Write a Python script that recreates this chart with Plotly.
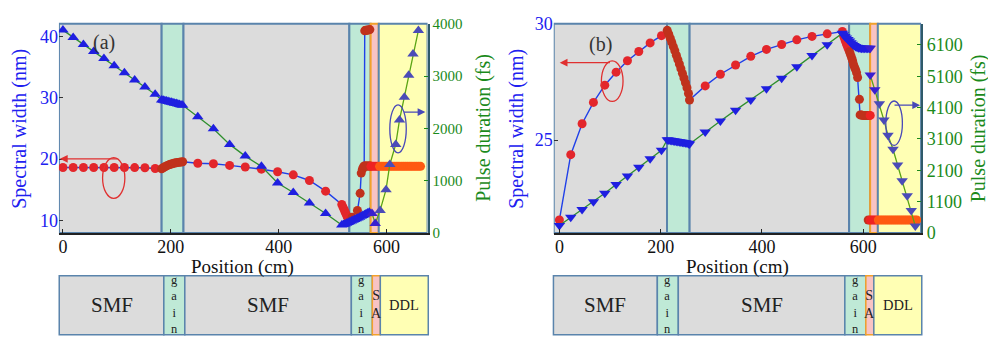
import plotly.graph_objects as go

# ---------------------------------------------------------------------------
# Panel (a): fibre sections and evolution along the cavity
# ---------------------------------------------------------------------------
a_section_kinds = ["smf", "gain", "smf", "gain", "sa", "ddl"]
a_section_edges = [-7.4, 183, 223.5, 531, 570.4, 585.5, 676]

# spectral width (nm), left axis
a_pos_sw = [0, 19, 38, 57, 76, 95, 114, 133, 152, 171,
            183, 186, 189, 192, 195, 198, 201, 204, 207, 210, 213, 216, 219, 222,
            250, 279, 309, 338, 368, 398, 427, 457, 487, 517,
            519, 521, 523, 525, 527, 529, 536, 546, 551, 553, 555, 557, 558.5,
            559.5, 561, 563, 565, 567, 569]
a_sw = [18.62, 18.62, 18.62, 18.62, 18.62, 18.62, 18.61, 18.60, 18.57, 18.45,
        18.40, 18.58, 18.74, 18.88, 19.00, 19.10, 19.19, 19.27, 19.33, 19.39, 19.44, 19.48, 19.52, 19.55,
        19.31, 19.22, 18.96, 18.69, 18.34, 17.93, 17.42, 16.50, 14.76, 12.60,
        12.2, 11.8, 11.4, 11.0, 10.6, 10.3, 10.5, 11.6, 14.4, 17.7, 18.3, 18.7, 18.85,
        40.9, 41.0, 41.0, 41.05, 41.05, 41.1]
a_pos_sw_hold = [560, 562, 564, 566, 568, 570]
a_sw_hold = [18.85, 18.85, 18.85, 18.85, 18.85, 18.85]
a_pos_sw_out = [571, 575, 579, 583, 587, 591, 595, 599, 603, 607, 611, 615,
                619, 623, 627, 631, 635, 639, 643, 647, 651, 655, 659, 663]
a_sw_out = [18.8, 18.8, 18.8, 18.8, 18.8, 18.8, 18.8, 18.8, 18.8, 18.8, 18.8, 18.8,
            18.8, 18.8, 18.8, 18.8, 18.8, 18.8, 18.8, 18.8, 18.8, 18.8, 18.8, 18.8]

# pulse duration (fs), right axis
a_pos_pd = [0, 19, 38, 57, 76, 95, 114, 133, 152, 171,
            183, 186, 189, 192, 195, 198, 201, 204, 207, 210, 213, 216, 219, 222,
            250, 279, 309, 338, 368, 398, 427, 457, 487, 517,
            520, 523, 526, 529, 532, 535, 538, 541, 544, 547, 550, 553, 556, 559, 562, 565, 568]
a_pd = [3880, 3740, 3605, 3470, 3335, 3200, 3065, 2928, 2790, 2655,
        2545, 2538, 2530, 2522, 2514, 2506, 2498, 2490, 2482, 2474, 2466, 2458, 2450, 2442,
        2224, 1995, 1694, 1470, 1274, 955, 775, 571, 373, 151,
        160, 172, 186, 200, 214, 228, 242, 257, 272, 287, 302, 318, 334, 350, 366, 382, 398]
a_pos_pd_out = [573, 579, 588, 599, 606, 617, 624, 633, 641, 649, 659]
a_pd_out = [373, 180, 432, 829, 1310, 1694, 2162, 2595, 3017, 3424, 3874]

a_sw_ticks = [10, 20, 30, 40]
a_pd_ticks = [0, 1000, 2000, 3000, 4000]
a_pd_ticktext = ["0", "1000", "2000", "3000", "4000"]

# ---------------------------------------------------------------------------
# Panel (b)
# ---------------------------------------------------------------------------
b_section_kinds = ["smf", "gain", "smf", "gain", "sa", "ddl"]
b_section_edges = [-11.2, 212.5, 257.2, 572.3, 613.8, 629, 714.4]

b_pos_sw = [0, 22.4, 44.8, 67.2, 89.6, 112, 134.4, 156.8, 179.2, 201.6,
            213, 216, 219, 222, 225, 228, 231, 234, 237, 240, 243, 246, 249, 252, 255, 257,
            288, 318, 348, 378, 409, 439, 469, 499, 529, 559,
            561, 563, 565, 567, 569, 571, 573, 575, 577, 579, 581, 583, 585, 587, 589,
            592.7, 594, 596, 598, 600, 602, 604, 606, 608, 610, 612, 614]
b_sw = [21.56, 24.37, 25.70, 26.62, 27.36, 27.92, 28.41, 28.81, 29.18, 29.49,
        29.72, 29.55, 29.38, 29.20, 29.02, 28.84, 28.65, 28.46, 28.27, 28.07, 27.87, 27.67, 27.46, 27.25, 27.00, 26.72,
        27.33, 27.83, 28.23, 28.60, 28.90, 29.11, 29.31, 29.46, 29.57, 29.67,
        29.50, 29.38, 29.25, 29.13, 29.02, 28.91, 28.80, 28.68, 28.55, 28.42, 28.25, 28.13, 28.03, 27.90, 27.69,
        26.75, 26.08, 26.08, 26.07, 26.06, 26.06, 26.06, 26.05, 26.05, 26.05, 26.05, 26.06]
b_pos_sw_out = [610, 614, 618, 622, 626, 630, 634, 638, 642, 646, 650, 654, 658,
                662, 666, 670, 674, 678, 682, 686, 690, 694, 698, 702, 706]
b_sw_out = [21.56, 21.56, 21.56, 21.56, 21.56, 21.56, 21.56, 21.56, 21.56, 21.56, 21.56, 21.56, 21.56,
            21.56, 21.56, 21.56, 21.56, 21.56, 21.56, 21.56, 21.56, 21.56, 21.56, 21.56, 21.56]

b_pos_pd = [0, 22.4, 44.8, 67.2, 89.6, 112, 134.4, 156.8, 179.2, 201.6,
            213, 216, 219, 222, 225, 228, 231, 234, 237, 240, 243, 246, 249, 252, 255, 257,
            288, 318, 348, 378, 409, 439, 469, 499, 529, 559,
            561, 564, 567, 570, 573, 576, 579, 582, 585, 588, 591, 594, 597, 600, 603, 606, 609, 612, 614]
b_pd = [340, 598, 850, 1099, 1369, 1648, 1918, 2200, 2470, 2740,
        3075, 3068, 3060, 3052, 3044, 3036, 3028, 3020, 3012, 3004, 2996, 2988, 2980, 2970, 2955, 2940,
        3319, 3670, 4018, 4339, 4699, 5038, 5398, 5758, 6100, 6469,
        6420, 6370, 6320, 6270, 6220, 6170, 6120, 6080, 6045, 6020, 6005, 6000, 5995, 5995, 5995, 5995, 5995, 5995, 5995]
b_pos_pd_out = [614, 623, 632, 641, 649, 659, 668, 677, 687, 695, 703]
b_pd_out = [5140, 4669, 4219, 3700, 3220, 2770, 2269, 1768, 1288, 820, 319]

b_sw_ticks = [25, 30]
b_pd_ticks = [100, 1100, 2100, 3100, 4100, 5100, 6100]
b_pd_ticktext = ["0", "1100", "2100", "3100", "4100", "5100", "6100"]

x_ticks = [0, 200, 400, 600]

# cavity schematic beneath each panel
schematic_labels = ["SMF", "g<br>a<br>i<br>n", "SMF", "g<br>a<br>i<br>n", "S<br>A", "DDL"]

# ---------------------------------------------------------------------------
W, H = 988, 340
SERIF = "Liberation Serif"

FILL = {"smf": "#dcdcdc", "gain": "#bfe9d6", "sa": "#f8c3c3", "ddl": "#ffffb4"}
EDGE = {"smf": "#5a84ac", "gain": "#5a84ac", "sa": "#f2a12a", "ddl": "#5a84ac"}
SW_COL = {"smf": "#e3262b", "gain": "#c0321c", "sa": "#ee2222", "ddl": "#ff5a12"}
PD_COL = {"smf": "#1f1fe0", "gain": "#1f1fe0", "sa": "#3a1fd0", "ddl": "#4b4bb8"}
BLUE_TXT = "#2020f0"
GREEN_TXT = "#1b8a1b"


def kind_at(x, edges, kinds):
    for i, k in enumerate(kinds):
        if edges[i] <= x < edges[i + 1]:
            return k
    return kinds[-1]


def colours(xs, edges, kinds, table):
    return [table[kind_at(x, edges, kinds)] for x in xs]


def fx(p):
    return p / W


def fy(p):
    return 1 - p / H


fig = go.Figure()

panels = [
    dict(xa="x", ya="y", ya2="y2", edges=a_section_edges, kinds=a_section_kinds,
         pos_sw=a_pos_sw, sw=a_sw, pos_pd=a_pos_pd, pd=a_pd,
         extra_sw=[(a_pos_sw_hold, a_sw_hold), (a_pos_sw_out, a_sw_out)],
         pos_pd_out=a_pos_pd_out, pd_out=a_pd_out, tri="triangle-up"),
    dict(xa="x2", ya="y3", ya2="y4", edges=b_section_edges, kinds=b_section_kinds,
         pos_sw=b_pos_sw, sw=b_sw, pos_pd=b_pos_pd, pd=b_pd,
         extra_sw=[(b_pos_sw_out, b_sw_out)],
         pos_pd_out=b_pos_pd_out, pd_out=b_pd_out, tri="triangle-down"),
]

shapes = []
for p in panels:
    e, k = p["edges"], p["kinds"]
    # section backgrounds
    for i, kind in enumerate(k):
        shapes.append(dict(type="rect", xref=p["xa"], yref=p["ya"] + " domain",
                           x0=e[i], x1=e[i + 1], y0=0, y1=1, layer="below",
                           fillcolor=FILL[kind], line=dict(color=EDGE[kind], width=2)))
    # pulse duration: main path
    fig.add_trace(go.Scatter(
        x=p["pos_pd"], y=p["pd"], xaxis=p["xa"], yaxis=p["ya2"], mode="lines+markers",
        line=dict(color="#2f8f2f", width=1.3),
        marker=dict(symbol=p["tri"], size=10, color=colours(p["pos_pd"], e, k, PD_COL),
                    line=dict(width=0))))
    # pulse duration: SA and dispersive delay line
    fig.add_trace(go.Scatter(
        x=p["pos_pd_out"], y=p["pd_out"], xaxis=p["xa"], yaxis=p["ya2"], mode="lines+markers",
        line=dict(color="#5aa414", width=1.3),
        marker=dict(symbol=p["tri"], size=10, color=colours(p["pos_pd_out"], e, k, PD_COL),
                    line=dict(width=0))))
    # spectral width: main path
    fig.add_trace(go.Scatter(
        x=p["pos_sw"], y=p["sw"], xaxis=p["xa"], yaxis=p["ya"], mode="lines+markers",
        line=dict(color="#2040e8", width=1.4),
        marker=dict(symbol="circle", size=9, color=colours(p["pos_sw"], e, k, SW_COL),
                    line=dict(width=0))))
    for xs, ys in p["extra_sw"]:
        fig.add_trace(go.Scatter(
            x=xs, y=ys, xaxis=p["xa"], yaxis=p["ya"], mode="markers",
            marker=dict(symbol="circle", size=9, color=colours(xs, e, k, SW_COL),
                        line=dict(width=0))))

# ellipses marking which curve belongs to which axis
shapes += [
    dict(type="circle", xref="x", yref="y", x0=73.5, x1=114.8, y0=13.58, y1=20.23,
         line=dict(color="#e03030", width=1.3)),
    dict(type="circle", xref="x", yref="y", x0=606, x1=636.5, y0=21.0, y1=28.83,
         line=dict(color="#4848b8", width=1.3)),
    dict(type="circle", xref="x2", yref="y3", x0=82.9, x1=125.7, y0=26.66, y1=28.41,
         line=dict(color="#e03030", width=1.3)),
    dict(type="circle", xref="x2", yref="y3", x0=644.8, x1=677.5, y0=24.77, y1=26.68,
         line=dict(color="#4848b8", width=1.3)),
]

# cavity schematic
sch_px = [[58.3, 163, 184, 350.7, 371.7, 379.7, 427.7],
          [553, 657, 678, 844.7, 865.7, 873.7, 921.7]]
sch_top, sch_bot, sch_mid = 282.3, 345, 313
annotations = []
for edges_px, kinds in zip(sch_px, [a_section_kinds, b_section_kinds]):
    for i, kind in enumerate(kinds):
        shapes.append(dict(type="rect", xref="paper", yref="paper",
                           x0=fx(edges_px[i]), x1=fx(edges_px[i + 1]),
                           y0=fy(sch_bot), y1=fy(sch_top),
                           fillcolor=FILL[kind], line=dict(color=EDGE[kind], width=1.5)))
        size = {"smf": 21, "gain": 12.5, "sa": 14, "ddl": 14.5}[kind]
        annotations.append(dict(xref="paper", yref="paper",
                                x=fx((edges_px[i] + edges_px[i + 1]) / 2), y=fy(sch_mid),
                                text=schematic_labels[i], showarrow=False,
                                xanchor="center", yanchor="middle",
                                font=dict(family=SERIF, size=size, color="#222")))

# axis titles and panel tags
for xc, txt, col in [(18.5, "Spectral width (nm)", BLUE_TXT), (483, "Pulse duration (fs)", GREEN_TXT),
                     (516, "Spectral width (nm)", BLUE_TXT), (978, "Pulse duration (fs)", GREEN_TXT)]:
    annotations.append(dict(xref="paper", yref="paper", x=fx(xc), y=fy(125.7), text=txt,
                            textangle=-90, showarrow=False, xanchor="center", yanchor="middle",
                            font=dict(family=SERIF, size=20, color=col)))
for xc in [242, 737]:
    annotations.append(dict(xref="paper", yref="paper", x=fx(xc), y=fy(273), text="Position (cm)",
                            showarrow=False, xanchor="center", yanchor="middle",
                            font=dict(family=SERIF, size=19, color="#111")))
for xc, yc, txt in [(103.3, 35, "(a)"), (600, 36.7, "(b)")]:
    annotations.append(dict(xref="paper", yref="paper", x=fx(xc), y=fy(yc), text=txt,
                            showarrow=False, xanchor="center", yanchor="middle",
                            font=dict(family=SERIF, size=20, color="#333")))

# arrows pointing at the relevant axis
for xr, yr, x0, x1, yv, col in [("x", "y", 103.7, -5.6, 20.03, "#e03030"),
                                ("x", "y", 629.6, 672, 27.66, "#4848b8"),
                                ("x2", "y3", 102.6, 0.6, 28.33, "#e03030"),
                                ("x2", "y3", 659, 712.5, 26.5, "#4848b8")]:
    annotations.append(dict(xref=xr, yref=yr, axref=xr, ayref=yr, x=x1, y=yv, ax=x0, ay=yv,
                            text="", showarrow=True, arrowhead=2, arrowsize=1.2,
                            arrowwidth=1.3, arrowcolor=col))

dom_a = [fx(58), fx(427)]
dom_b = [fx(553.3), fx(921)]
dom_y = [fy(236.9), fy(14.7)]

xcommon = dict(tickvals=x_ticks, ticks="inside", ticklen=4, tickcolor="#222",
               showline=True, linecolor="#222", linewidth=1.5, showgrid=False, zeroline=False,
               ticklabelposition="outside", ticklabelstandoff=-3,
               tickfont=dict(family=SERIF, size=18, color="#111"))
ycommon = dict(ticks="inside", ticklen=4, showgrid=False, zeroline=False)

fig.update_layout(
    width=W, height=H, margin=dict(l=0, r=0, t=0, b=0),
    paper_bgcolor="white", plot_bgcolor="white", showlegend=False,
    font=dict(family=SERIF),
    xaxis=dict(domain=dom_a, range=[a_section_edges[0], a_section_edges[-1]], anchor="y", **xcommon),
    yaxis=dict(domain=dom_y, range=[7.94, 42.04], anchor="x", tickvals=a_sw_ticks,
               tickcolor="#333", tickfont=dict(family=SERIF, size=18, color=BLUE_TXT), **ycommon),
    yaxis2=dict(range=[0, 4000], overlaying="y", side="right", anchor="x",
                tickvals=a_pd_ticks, ticktext=a_pd_ticktext, tickcolor=GREEN_TXT,
                showline=True, linecolor="#2f5a6a", linewidth=2,
                tickfont=dict(family=SERIF, size=15, color=GREEN_TXT), **ycommon),
    xaxis2=dict(domain=dom_b, range=[b_section_edges[0], b_section_edges[-1]], anchor="y3", **xcommon),
    yaxis3=dict(domain=dom_y, range=[21.0, 30.0], anchor="x2", tickvals=b_sw_ticks,
                tickcolor="#333", tickfont=dict(family=SERIF, size=18, color=BLUE_TXT), **ycommon),
    yaxis4=dict(range=[100, 6770], overlaying="y3", side="right", anchor="x2",
                tickvals=b_pd_ticks, ticktext=b_pd_ticktext, tickcolor=GREEN_TXT,
                showline=True, linecolor="#2f5a6a", linewidth=2,
                tickfont=dict(family=SERIF, size=18, color=GREEN_TXT), **ycommon),
    shapes=shapes, annotations=annotations,
)

fig.write_html("out.html")
